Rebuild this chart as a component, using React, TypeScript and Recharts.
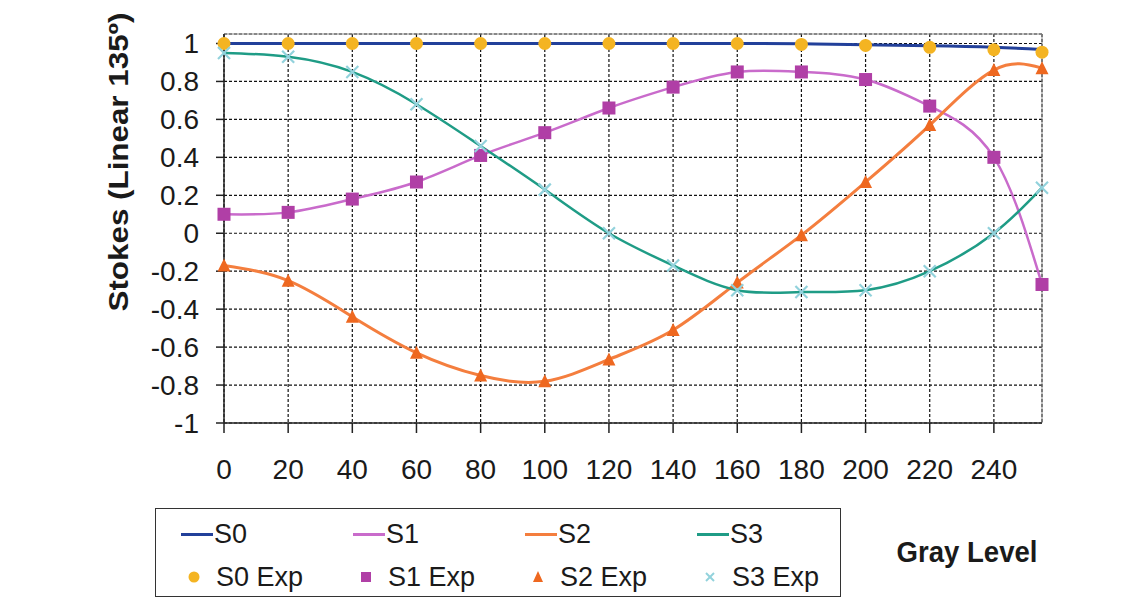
import {
  ComposedChart,
  Line,
  Scatter,
  XAxis,
  YAxis,
  CartesianGrid,
  ReferenceLine,
} from "recharts";

// gray level (x) and stokes values
const grayLevels = [0, 20, 40, 60, 80, 100, 120, 140, 160, 180, 200, 220, 240, 255];

const s0Theory = [1, 1, 1, 1, 1, 1, 1, 1, 1, 0.998, 0.993, 0.988, 0.98, 0.968];
const s0Exp = [1, 1, 1, 1, 1, 1, 1, 1, 1, 0.995, 0.99, 0.98, 0.967, 0.954];
const s1Exp = [0.1, 0.11, 0.18, 0.27, 0.41, 0.53, 0.66, 0.77, 0.85, 0.85, 0.81, 0.67, 0.4, -0.27];
const s2Exp = [-0.17, -0.25, -0.44, -0.63, -0.75, -0.78, -0.665, -0.51, -0.26, -0.01, 0.27, 0.57, 0.86, 0.87];
const s3Exp = [0.95, 0.93, 0.85, 0.68, 0.46, 0.23, 0.0, -0.17, -0.3, -0.31, -0.3, -0.2, 0.0, 0.24];

const xTicks = [0, 20, 40, 60, 80, 100, 120, 140, 160, 180, 200, 220, 240];
const yTicks = [-1, -0.8, -0.6, -0.4, -0.2, 0, 0.2, 0.4, 0.6, 0.8, 1];

const rows = grayLevels.map((x, i) => ({
  x,
  s0: s0Theory[i],
  s1: s1Exp[i],
  s2: s2Exp[i],
  s3: s3Exp[i],
  s0e: s0Exp[i],
  s1e: s1Exp[i],
  s2e: s2Exp[i],
  s3e: s3Exp[i],
}));

const FONT = '"Liberation Sans", Arial, sans-serif';

const C = {
  s0: "#22409a",
  s1: "#c96bcb",
  s2: "#f47e3e",
  s3: "#1f9c86",
  s0e: "#f4b422",
  s1e: "#b03fa6",
  s2e: "#ee6820",
  s3e: "#92d2dc",
};

const CircleMark = (p: any) => <circle cx={p.cx} cy={p.cy} r={6.5} fill={C.s0e} />;
const SquareMark = (p: any) => (
  <rect x={p.cx - 6.5} y={p.cy - 6.5} width={13} height={13} fill={C.s1e} />
);
const TriMark = (p: any) => (
  <polygon
    points={`${p.cx},${p.cy - 7} ${p.cx - 6.5},${p.cy + 6} ${p.cx + 6.5},${p.cy + 6}`}
    fill={C.s2e}
  />
);
const XMark = (p: any) => (
  <g stroke={C.s3e} strokeWidth={2.2}>
    <line x1={p.cx - 6} y1={p.cy - 6} x2={p.cx + 6} y2={p.cy + 6} />
    <line x1={p.cx - 6} y1={p.cy + 6} x2={p.cx + 6} y2={p.cy - 6} />
  </g>
);

const YTitle = () => (
  <text
    transform="translate(118,162) rotate(-90)"
    textAnchor="middle"
    dominantBaseline="central"
    fontFamily={FONT}
    fontWeight="bold"
    fontSize={28}
    fill="#1a1a1a"
    textLength={299}
    lengthAdjust="spacingAndGlyphs"
  >
    Stokes (Linear 135º)
  </text>
);

const XTitle = () => (
  <text
    x={967}
    y={552}
    textAnchor="middle"
    dominantBaseline="central"
    fontFamily={FONT}
    fontWeight="bold"
    fontSize={29}
    fill="#1a1a1a"
    textLength={141}
    lengthAdjust="spacingAndGlyphs"
  >
    Gray Level
  </text>
);

const legendLines = [
  { name: "S0", color: C.s0 },
  { name: "S1", color: C.s1 },
  { name: "S2", color: C.s2 },
  { name: "S3", color: C.s3 },
];
const legendMarks = [
  { name: "S0 Exp", shape: "circle", color: C.s0e },
  { name: "S1 Exp", shape: "square", color: C.s1e },
  { name: "S2 Exp", shape: "triangle", color: C.s2e },
  { name: "S3 Exp", shape: "x", color: C.s3e },
];

function LegendMark({ shape, color }: { shape: string; color: string }) {
  return (
    <svg width={26} height={20} style={{ display: "block" }}>
      {shape === "circle" && <circle cx={13} cy={10} r={5.5} fill={color} />}
      {shape === "square" && <rect x={8} y={5} width={10} height={10} fill={color} />}
      {shape === "triangle" && <polygon points="13,4 8,15 18,15" fill={color} />}
      {shape === "x" && (
        <g stroke={color} strokeWidth={2}>
          <line x1={9} y1={6} x2={17} y2={14} />
          <line x1={9} y1={14} x2={17} y2={6} />
        </g>
      )}
    </svg>
  );
}

function ChartLegend() {
  const colX = [25, 197, 369, 541];
  return (
    <div
      style={{
        position: "absolute",
        left: 155,
        top: 508,
        width: 684,
        height: 87,
        border: "1.5px solid #333",
        fontFamily: FONT,
        fontSize: 27,
        color: "#1a1a1a",
      }}
    >
      {legendLines.map((it, i) => (
        <div
          key={it.name}
          style={{ position: "absolute", left: colX[i], top: 9, display: "flex", alignItems: "center", height: 32 }}
        >
          <div style={{ width: 32, height: 3, background: it.color }} />
          <span style={{ marginLeft: 1 }}>{it.name}</span>
        </div>
      ))}
      {legendMarks.map((it, i) => (
        <div
          key={it.name}
          style={{ position: "absolute", left: colX[i], top: 52, display: "flex", alignItems: "center", height: 32 }}
        >
          <LegendMark shape={it.shape} color={it.color} />
          <span style={{ marginLeft: 9 }}>{it.name}</span>
        </div>
      ))}
    </div>
  );
}

export default function App() {
  return (
    <div
      style={{
        position: "absolute",
        left: 0,
        top: 0,
        width: 1135,
        height: 599,
        background: "#fff",
        fontFamily: FONT,
      }}
    >
      <ComposedChart
        width={1135}
        height={599}
        data={rows}
        margin={{ top: 34, right: 93, left: 0, bottom: 116 }}
      >
        <CartesianGrid stroke="#111" strokeDasharray="3 2" strokeWidth={1.2} />
        <ReferenceLine y={1.05} stroke="#888" strokeWidth={1} />
        <ReferenceLine x={255} stroke="#888" strokeWidth={1} />
        <XAxis
          dataKey="x"
          type="number"
          domain={[0, 255]}
          ticks={xTicks}
          interval={0}
          height={60}
          tickSize={10}
          tickMargin={26}
          stroke="#222"
          strokeWidth={1.5}
          tick={{ fill: "#1a1a1a", fontSize: 28, fontFamily: FONT }}
          label={<XTitle />}
        />
        <YAxis
          type="number"
          domain={[-1, 1.05]}
          ticks={yTicks}
          interval={0}
          width={224}
          tickSize={8}
          tickMargin={17}
          stroke="#222"
          strokeWidth={1.5}
          tickFormatter={(v: number) => String(Math.round(v * 10) / 10)}
          tick={{ fill: "#1a1a1a", fontSize: 28, fontFamily: FONT }}
          label={<YTitle />}
        />
        <Line dataKey="s0" type="natural" stroke={C.s0} strokeWidth={3} dot={false} isAnimationActive={false} />
        <Line dataKey="s1" type="natural" stroke={C.s1} strokeWidth={2.5} dot={false} isAnimationActive={false} />
        <Line dataKey="s2" type="natural" stroke={C.s2} strokeWidth={3} dot={false} isAnimationActive={false} />
        <Line dataKey="s3" type="natural" stroke={C.s3} strokeWidth={2.5} dot={false} isAnimationActive={false} />
        <Scatter dataKey="s0e" shape={CircleMark} isAnimationActive={false} />
        <Scatter dataKey="s1e" shape={SquareMark} isAnimationActive={false} />
        <Scatter dataKey="s2e" shape={TriMark} isAnimationActive={false} />
        <Scatter dataKey="s3e" shape={XMark} isAnimationActive={false} />
      </ComposedChart>
      <ChartLegend />
    </div>
  );
}
